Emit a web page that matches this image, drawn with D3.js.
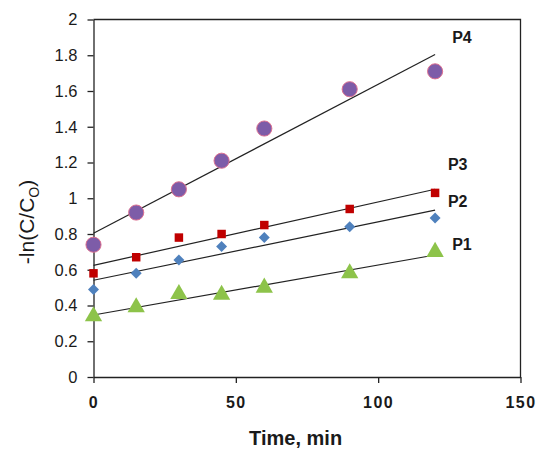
<!DOCTYPE html>
<html>
<head>
<meta charset="utf-8">
<script src="https://cdn.jsdelivr.net/npm/d3@7"></script>
<style>
  body { margin: 0; background: #fff; }
  text { font-family: Arial, "Liberation Sans", sans-serif; fill: #1a1a1a; }
</style>
</head>
<body>
<svg id="chart" width="537" height="451"></svg>
<script>
// time points (min)
const times = [0, 15, 30, 45, 60, 90, 120];

// -ln(C/Co) for each sample
const p1 = [0.34, 0.39, 0.465, 0.46, 0.50, 0.58, 0.70];
const p2 = [0.49, 0.58, 0.655, 0.73, 0.78, 0.84, 0.89];
const p3 = [0.58, 0.67, 0.78, 0.80, 0.85, 0.94, 1.03];
const p4 = [0.74, 0.92, 1.05, 1.21, 1.39, 1.61, 1.71];

const seriesNames = ['P1', 'P2', 'P3', 'P4'];
// where each series label sits, in data units [time, value]
const labelAnchors = [[126, 0.74], [124.5, 0.985], [124.5, 1.19], [126, 1.9]];

const xTicks = [0, 50, 100, 150];
const yTicks = [0, 0.2, 0.4, 0.6, 0.8, 1, 1.2, 1.4, 1.6, 1.8, 2];

const margin = {top: 19.5, right: 16.5, bottom: 74, left: 93.5};
const width = 537 - margin.left - margin.right;
const height = 451 - margin.top - margin.bottom;

const svg = d3.select('#chart');
const g = svg.append('g').attr('transform', `translate(${margin.left},${margin.top})`);

const x = d3.scaleLinear().domain([0, 150]).range([0, width]);
const y = d3.scaleLinear().domain([0, 2]).range([height, 0]);

// frame (top and right sides)
g.append('path')
  .attr('d', `M0,0H${width}V${height}`)
  .attr('fill', 'none')
  .attr('stroke', '#222')
  .attr('stroke-width', 1.3);

const yAxis = g.append('g')
  .call(d3.axisLeft(y).tickValues(yTicks).tickFormat(d => String(+d.toFixed(1)))
    .tickSize(6).tickSizeOuter(0).tickPadding(10));
yAxis.selectAll('text').style('font-size', '16.5px').attr('fill', '#222');

const xAxis = g.append('g')
  .attr('transform', `translate(0,${height})`)
  .call(d3.axisBottom(x).tickValues(xTicks).tickSize(6).tickSizeOuter(0).tickPadding(14));
xAxis.selectAll('text')
  .style('font-size', '16px')
  .style('font-weight', 'bold')
  .style('letter-spacing', '1.5px')
  .attr('fill', '#222');

[yAxis, xAxis].forEach(a => {
  a.select('.domain').attr('stroke', '#222').attr('stroke-width', 1.3);
  a.selectAll('.tick line').attr('stroke', '#222').attr('stroke-width', 1.3);
});

// axis titles
svg.append('text')
  .attr('x', margin.left + x(71))
  .attr('y', 445)
  .attr('text-anchor', 'middle')
  .style('font-size', '20px')
  .style('font-weight', 'bold')
  .text('Time, min');

const yTitle = svg.append('text')
  .attr('transform', 'translate(34,222) rotate(-90)')
  .attr('text-anchor', 'middle')
  .style('font-size', '21px');
yTitle.append('tspan').text('-ln(C/C');
yTitle.append('tspan').attr('dy', 5).style('font-size', '14px').text('O');
yTitle.append('tspan').attr('dy', -5).text(')');

/**
 * Least squares line through the points of one series
 */
function fitLine(values) {
  const mx = d3.mean(times);
  const my = d3.mean(values);
  const sxy = d3.sum(times, (t, i) => (t - mx) * (values[i] - my));
  const sxx = d3.sum(times, t => (t - mx) * (t - mx));
  const slope = sxy / sxx;
  const b = my - slope * mx;
  return [[0, b], [120, b + slope * 120]];
}

const allSeries = [p1, p2, p3, p4];

const line = d3.line().x(d => x(d[0])).y(d => y(d[1]));

g.selectAll('.trend')
  .data(allSeries)
  .enter()
  .append('path')
  .attr('class', 'trend')
  .attr('d', d => line(fitLine(d)))
  .attr('fill', 'none')
  .attr('stroke', '#222')
  .attr('stroke-width', 1.2);

const markerStyles = [
  {type: d3.symbolTriangle, size: 130, fill: '#8DC34A', stroke: 'none', rotate: 0},
  {type: d3.symbolSquare, size: 60, fill: '#4F81BD', stroke: 'none', rotate: 45},
  {type: d3.symbolSquare, size: 72, fill: '#C00000', stroke: 'none', rotate: 0},
  {type: d3.symbolCircle, size: 180, fill: '#7D5CA8', stroke: '#DD7090', rotate: 0}
];

allSeries.forEach((values, s) => {
  const st = markerStyles[s];
  g.selectAll(`.pt${s}`)
    .data(values)
    .enter()
    .append('path')
    .attr('class', `pt${s}`)
    .attr('transform', (v, i) => `translate(${x(times[i])},${y(v)}) rotate(${st.rotate})`)
    .attr('d', d3.symbol().type(st.type).size(st.size))
    .attr('fill', st.fill)
    .attr('stroke', st.stroke)
    .attr('stroke-width', 1);
});

g.selectAll('.series-label')
  .data(seriesNames)
  .enter()
  .append('text')
  .attr('class', 'series-label')
  .attr('x', (d, i) => x(labelAnchors[i][0]))
  .attr('y', (d, i) => y(labelAnchors[i][1]))
  .attr('dy', '0.35em')
  .style('font-size', '16px')
  .style('font-weight', 'bold')
  .text(d => d);
</script>
</body>
</html>
